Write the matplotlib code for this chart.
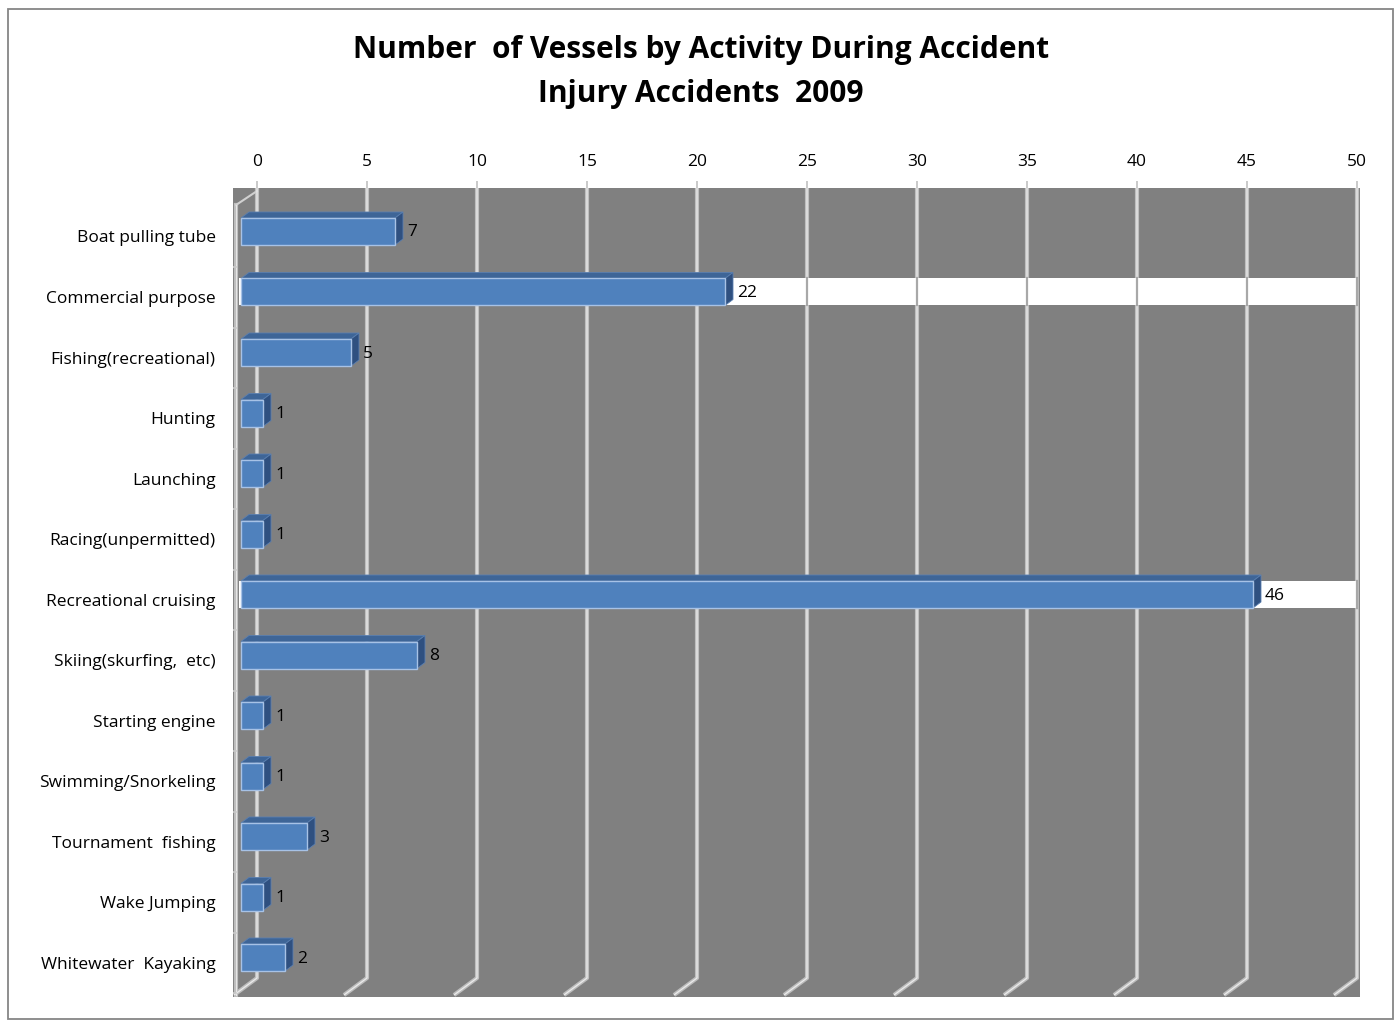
import matplotlib
matplotlib.use("Agg")
import matplotlib.pyplot as plt
from matplotlib.patches import Polygon, Rectangle
from matplotlib.transforms import ScaledTranslation

# ---- data ----
activities = [
    "Boat pulling tube", "Commercial purpose", "Fishing(recreational)", "Hunting",
    "Launching", "Racing(unpermitted)", "Recreational cruising", "Skiing(skurfing,  etc)",
    "Starting engine", "Swimming/Snorkeling", "Tournament  fishing", "Wake Jumping",
    "Whitewater  Kayaking",
]
vessels = [7, 22, 5, 1, 1, 1, 46, 8, 1, 1, 3, 1, 2]
x_ticks = [0, 5, 10, 15, 20, 25, 30, 35, 40, 45, 50]
title_lines = ["Number  of Vessels by Activity During Accident", "Injury Accidents  2009"]
banded_rows = ["Commercial purpose", "Recreational cruising"]

FONT = "Open Sans"
W, H, DPI = 1395, 1021, 100

fig = plt.figure(figsize=(W / DPI, H / DPI), dpi=DPI)
fig.patch.set_facecolor("white")

# outer chart border
fig.add_artist(Rectangle((8 / W, 1 - 1019 / H), (1393 - 8) / W, (1019 - 9) / H,
                         transform=fig.transFigure, fill=False,
                         edgecolor="#868686", linewidth=1.3))

# plot area in pixels
L, R, T, B = 233, 1360, 188, 997
ax = fig.add_axes([L / W, 1 - B / H, (R - L) / W, (B - T) / H])
ax.set_facecolor("#808080")
for s in ax.spines.values():
    s.set_visible(False)

px_per_unit = 22.0
x0_px = 257
row0_px = 231.5
row_px = 60.5
ax.set_xlim((L - x0_px) / px_per_unit, (R - x0_px) / px_per_unit)
ax.set_ylim((B - row0_px) / row_px, (T - row0_px) / row_px)

n = len(activities)
rows = list(range(n))
bar_h = 27 / row_px
dx = 8 / px_per_unit
dy = 6 / row_px

# gridlines with floor bend
grid_bottom = (978 - row0_px) / row_px
floor_y = (995 - row0_px) / row_px
floor_dx = -23 / px_per_unit
top_y = (T - row0_px) / row_px
for xt in x_ticks:
    xs = [xt, xt, xt + floor_dx]
    ys = [top_y, grid_bottom, floor_y]
    ax.plot(xs, ys, color="#bdbdbd", lw=3.0, zorder=2, solid_capstyle="butt")
    ax.plot(xs, ys, color="#ececec", lw=0.9, zorder=2.1, solid_capstyle="butt")

# left wall edge
wall_x = (236 - x0_px) / px_per_unit
ax.plot([wall_x, wall_x], [(205 - row0_px) / row_px, floor_y], color="#bdbdbd", lw=3.0, zorder=2)
ax.plot([wall_x, wall_x], [(205 - row0_px) / row_px, floor_y], color="#e6e6e6", lw=0.8, zorder=2.1)
ax.plot([wall_x, 0], [(205 - row0_px) / row_px, top_y + 0.05], color="#d0d0d0", lw=1.5, zorder=2)
for i in range(n):
    yb = i + 0.5 + 5.5 / row_px
    ax.plot([wall_x - 4 / px_per_unit, wall_x], [yb, yb], color="#c8c8c8", lw=1.2, zorder=2.2)

# bars, drawn with a small projection shift to the left
shift = ScaledTranslation(-16 / DPI, 0, fig.dpi_scale_trans)
bar_tr = ax.transData + shift

front_c = "#4F81BD"
top_c = "#3E6597"
side_c = "#2F5080"
edge_c = "#A7C2E6"

band_left = -2 / px_per_unit
band_right = 50.05 + 16 / px_per_unit

for i, (name, v) in enumerate(zip(activities, vessels)):
    yt = i - bar_h / 2
    yb = i + bar_h / 2
    if name in banded_rows:
        ax.add_patch(Rectangle((band_left, yt), band_right - band_left, bar_h,
                               transform=bar_tr, facecolor="white", edgecolor="none", zorder=2.5))
        for xt in x_ticks[1:]:
            ax.plot([xt, xt], [yt, yb], color="#a8a8a8", lw=1.6, zorder=2.6)
    top = Polygon([(0, yt), (v, yt), (v + dx, yt - dy), (dx, yt - dy)],
                  closed=True, transform=bar_tr, facecolor=top_c,
                  edgecolor="#5a7fb0", lw=0.6, zorder=3)
    side = Polygon([(v, yt), (v + dx, yt - dy), (v + dx, yb - dy), (v, yb)],
                   closed=True, transform=bar_tr, facecolor=side_c,
                   edgecolor="#5a7fb0", lw=0.6, zorder=3)
    front = Rectangle((0, yt), v, bar_h, transform=bar_tr, facecolor=front_c,
                      edgecolor=edge_c, lw=1.0, zorder=3.2)
    ax.add_patch(top)
    ax.add_patch(side)
    ax.add_patch(front)
    ax.text(v + dx, i, str(v),
            transform=bar_tr + ScaledTranslation(4 / DPI, -1 / DPI, fig.dpi_scale_trans),
            ha="left", va="center", fontsize=12.5, family=FONT, color="black", zorder=4)

# axes ticks and labels
ax.xaxis.tick_top()
ax.set_xticks(x_ticks)
ax.set_xticklabels([str(t) for t in x_ticks], fontsize=12.5, family=FONT)
ax.tick_params(axis="x", length=5, width=1.2, color="#c0c0c0", pad=8)
ax.set_yticks(rows)
ax.set_yticklabels(activities, fontsize=12.5, family=FONT)
ax.tick_params(axis="y", length=0, pad=12.5)
label_shift = ScaledTranslation(0, -5 / DPI, fig.dpi_scale_trans)
for lab in ax.get_yticklabels():
    lab.set_transform(lab.get_transform() + label_shift)

# title
fig.text(701 / W, 1 - 50 / H, title_lines[0], ha="center", va="center",
         fontsize=21.5, fontweight="bold", family=FONT)
fig.text(701 / W, 1 - 94 / H, title_lines[1], ha="center", va="center",
         fontsize=21.5, fontweight="bold", family=FONT)

fig.savefig("out.png", dpi=DPI)
